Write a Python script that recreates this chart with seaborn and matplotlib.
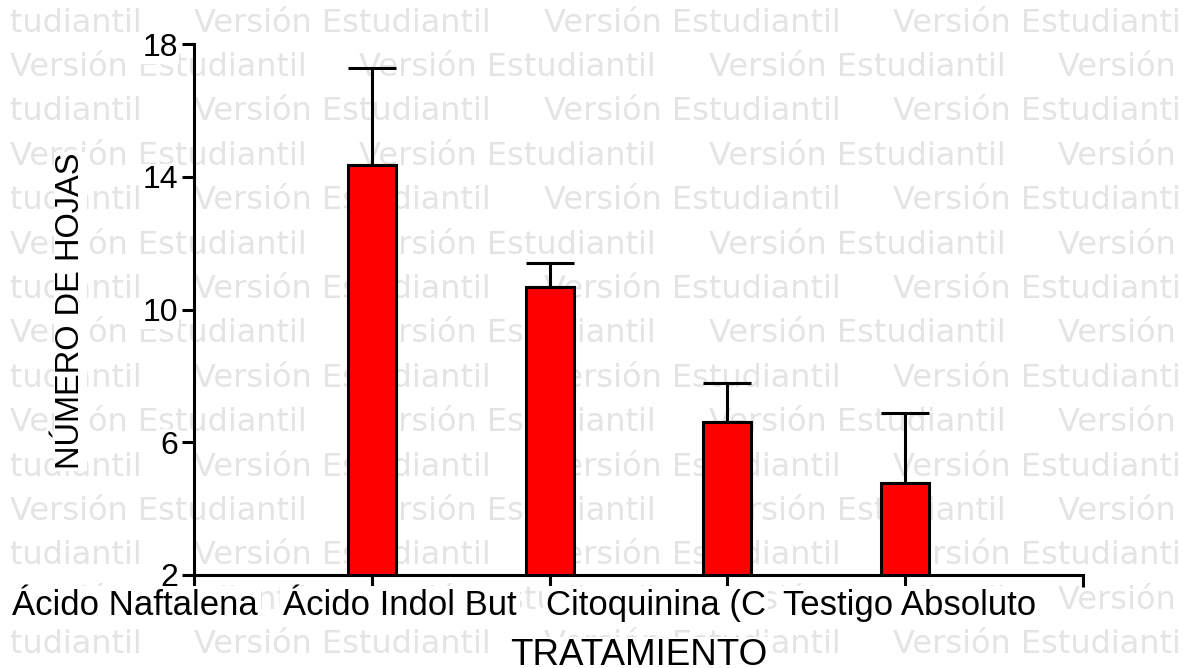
import numpy as np
import pandas as pd
import matplotlib
matplotlib.use("Agg")
import matplotlib.pyplot as plt
import matplotlib.transforms as mtransforms
import seaborn as sns

# Treatments (as printed under each bar), mean leaf count and SD
tratamientos = ["Ácido Naftalena", "Ácido Indol But", "Citoquinina (C", "Testigo Absoluto"]
hojas_media = [14.35, 10.67, 6.60, 4.78]
hojas_sd = [2.93, 0.74, 1.19, 2.09]
y_ticks = [2, 6, 10, 14, 18]

df = pd.DataFrame({"tratamiento": tratamientos, "hojas": hojas_media})

sns.set_theme(style="ticks")
plt.rcParams["font.family"] = ["Liberation Sans", "DejaVu Sans"]

W, H = 1184, 668
fig = plt.figure(figsize=(W / 100, H / 100), dpi=100)
fig.patch.set_facecolor("white")

# ---- background "Versión Estudiantil" watermark, tiled in staggered rows ----
wm = fig.add_axes([10 / W, 0, 1168 / W, 1], zorder=-1)
wm.set_xlim(10, 1178)
wm.set_ylim(H, 0)
wm.axis("off")
period = 349.3
row_step = 44.4
for r in range(15):
    y = 23 + r * row_step
    start = -155 if r % 2 == 0 else 10
    for k in range(5):
        wm.text(start + k * period, y, "Versión Estudiantil", ha="left", va="center",
                fontsize=23, family="DejaVu Sans", color="#e4e4e4", clip_on=True)

# ---- main bar chart ----
x0, x1, ytop, ybot = 194, 1083, 44, 575
ax = fig.add_axes([x0 / W, 1 - ybot / H, (x1 - x0) / W, (ybot - ytop) / H])
ax.set_facecolor("none")

sns.barplot(data=df, x="tratamiento", y="hojas", color="#ff0000", saturation=1,
            edgecolor="black", linewidth=2.2, width=0.27, errorbar=None, ax=ax)

pos = np.arange(len(tratamientos))
ax.errorbar(pos, hojas_media, yerr=[np.zeros(len(pos)), hojas_sd], fmt="none",
            ecolor="black", elinewidth=2.2, capsize=17.3, capthick=2.2, zorder=0.5)

ax.set_ylim(2, 18)
ax.set_xlim(-1, 4)
ax.set_yticks(y_ticks)
ax.set_yticklabels([str(v) for v in y_ticks])
ax.set_xticks([-1, 0, 1, 2, 3, 4])
ax.set_xticklabels([""] * 6)

for side in ["top", "right"]:
    ax.spines[side].set_visible(False)
for side in ["left", "bottom"]:
    ax.spines[side].set_linewidth(2.2)
    ax.spines[side].set_color("black")
ax.tick_params(axis="both", direction="out", length=8.6, width=2.2, color="black")
ax.tick_params(axis="y", labelsize=23, pad=3, labelcolor="black")
for lab in ax.get_yticklabels():
    lab.set_bbox(dict(facecolor="white", edgecolor="none", pad=1))

# category names under the axis, each with a white backing
label_offsets = [-1.332, -0.841, -0.404, 0.024]
trans = mtransforms.blended_transform_factory(ax.transData, ax.transAxes)
for i, name in enumerate(tratamientos):
    ax.text(pos[i] + label_offsets[i], -0.075, name, transform=trans,
            ha="center", va="baseline", fontsize=25, color="black",
            bbox=dict(facecolor="white", edgecolor="none", pad=2), clip_on=False)

ax.set_xlabel("TRATAMIENTO", fontsize=26.5, color="black",
              bbox=dict(facecolor="white", edgecolor="none", pad=1))
ax.xaxis.set_label_coords(0.5, -0.1695)
ax.xaxis.label.set_va("baseline")

ax.set_ylabel("NÚMERO DE HOJAS", fontsize=23.5, color="black",
              bbox=dict(facecolor="white", edgecolor="none", pad=1))
ax.yaxis.set_label_coords(-0.139, 0.497)
ax.yaxis.label.set_va("center")
ax.yaxis.label.set_ha("center")

fig.savefig("out.png", dpi=100, facecolor="white")
